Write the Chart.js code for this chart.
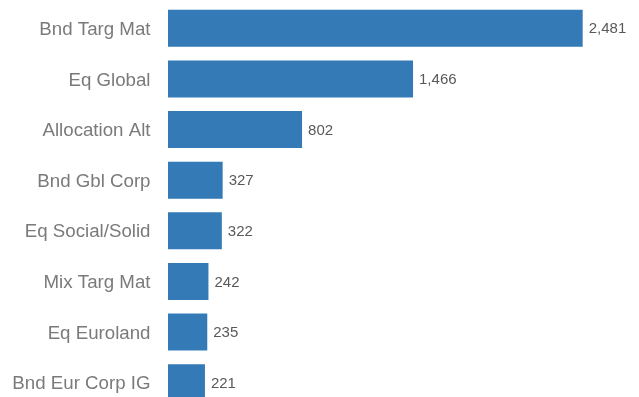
<!DOCTYPE html>
<html>
<head>
<meta charset="utf-8">
<script src="https://cdn.jsdelivr.net/npm/chart.js@4/dist/chart.umd.min.js"></script>
<style>
  html, body { margin: 0; padding: 0; overflow: hidden; background: #fff; }
  #wrap { width: 639px; height: 408px; position: relative; }
</style>
</head>
<body>
<div id="wrap"><canvas id="c" width="639" height="408"></canvas></div>
<script>
const categories = ["Bnd Targ Mat", "Eq Global", "Allocation Alt", "Bnd Gbl Corp", "Eq Social/Solid", "Mix Targ Mat", "Eq Euroland", "Bnd Eur Corp IG"];
const values = [2481, 1466, 802, 327, 322, 242, 235, 221];

const valueLabels = {
  id: 'valueLabels',
  afterDatasetsDraw(chart) {
    const ctx = chart.ctx;
    const meta = chart.getDatasetMeta(0);
    ctx.save();
    ctx.font = '15px "Liberation Sans", Arial, sans-serif';
    ctx.fillStyle = '#595959';
    ctx.textAlign = 'left';
    ctx.textBaseline = 'middle';
    meta.data.forEach((bar, i) => {
      const v = chart.data.datasets[0].data[i];
      ctx.fillText(v.toLocaleString('en-US'), bar.x + 6, bar.y + 1);
    });
    ctx.restore();
  }
};

new Chart(document.getElementById('c'), {
  type: 'bar',
  data: {
    labels: categories,
    datasets: [{
      data: values,
      backgroundColor: '#337ab7',
      borderWidth: 0,
      barPercentage: 0.73,
      categoryPercentage: 1.0
    }]
  },
  options: {
    indexAxis: 'y',
    responsive: false,
    animation: false,
    layout: { padding: { top: 3, right: 3, bottom: 0, left: 0 } },
    plugins: { legend: { display: false }, tooltip: { enabled: false } },
    scales: {
      x: {
        display: false,
        min: 0,
        max: 2800
      },
      y: {
        afterFit(scale) { scale.width = 168; scale.paddingTop = 0; scale.paddingBottom = 0; },
        grid: { display: false, drawTicks: false },
        border: { display: false },
        ticks: {
          padding: 17.5,
          labelOffset: 1.5,
          color: '#7a7a7a',
          font: { family: '"Liberation Sans", Arial, sans-serif', size: 18.7 }
        }
      }
    }
  },
  plugins: [valueLabels]
});
</script>
</body>
</html>
